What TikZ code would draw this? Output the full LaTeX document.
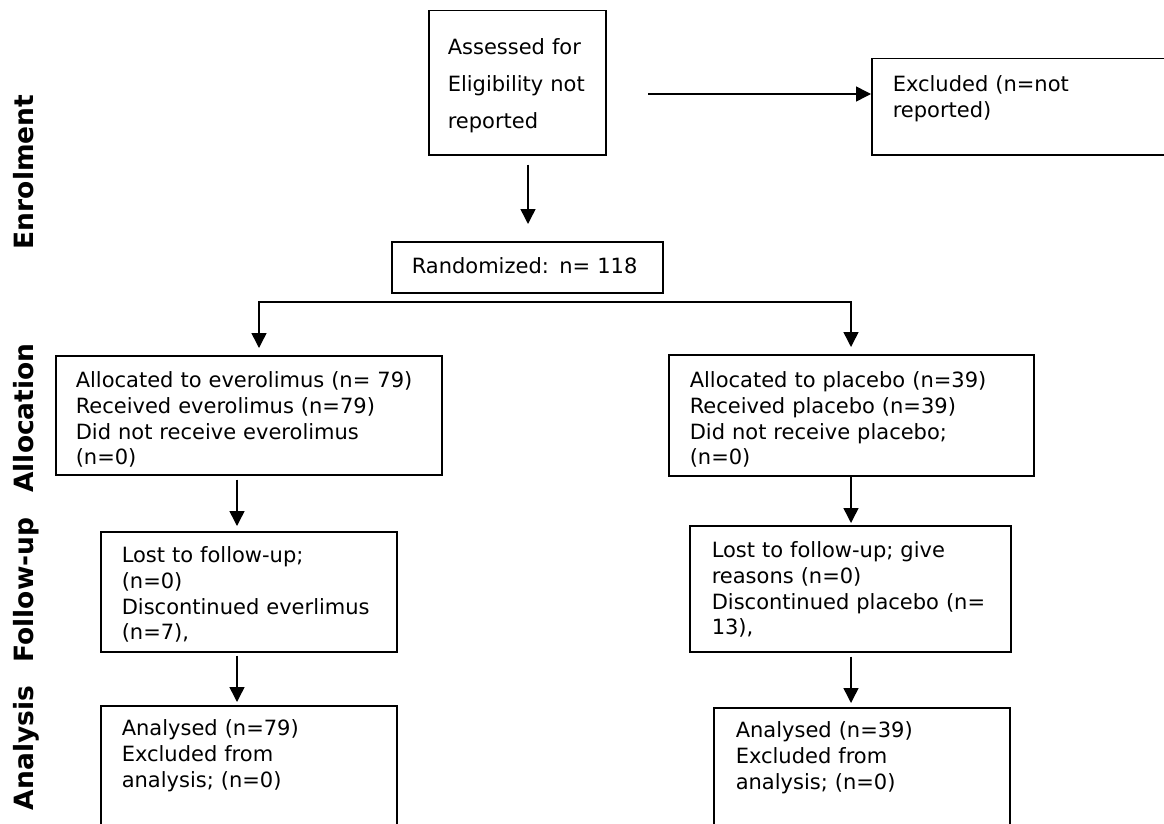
\documentclass[tikz,border=0pt]{standalone}
\usepackage{fontspec}
\setmainfont{DejaVu Sans}
\usetikzlibrary{arrows.meta}

\begin{document}
\begin{tikzpicture}[
x=1pt, y=-1pt,
line width=1.5pt,
>={Triangle[length=15pt,width=15pt]},
   box/.style = {draw, anchor=north west, align=left, inner ysep=0pt,
                 font=\fontsize{21}{25.7}\selectfont},
 stage/.style = {rotate=90, anchor=base, font=\fontsize{26.5}{30}\selectfont\bfseries}
                    ]
\useasboundingbox (0,0) rectangle (1164,824);
\clip (0,0) rectangle (1164,824);
% stages on the left
\node (enrol) [stage] at (33,172) {Enrolment};
\node (alloc) [stage] at (33,418) {Allocation};
\node (follow) [stage] at (33,590) {Follow-up};
\node (analys) [stage] at (33,748) {Analysis};
% boxes
\node (assess) [box, inner xsep=19pt, text width=139pt, text height=44pt, text depth=100pt,
                font=\fontsize{21}{37}\selectfont] at (428,10)
      {Assessed for\\ Eligibility not\\ reported};
\node (excluded) [box, inner xsep=21pt, text width=290pt, text height=33pt, text depth=63pt] at (871,58)
      {Excluded (n=not\\ reported)};
\node (randomized) [box, inner xsep=20pt, text width=231pt, text height=32pt, text depth=19pt] at (391,241)
      {Randomized: n= 118};

\node (allocE) [box, inner xsep=20pt, text width=346pt, text height=32pt, text depth=87pt] at (55,355)
      {Allocated to everolimus (n= 79)\\ Received everolimus (n=79)\\ Did not receive everolimus\\ (n=0)};
\node (allocP) [box, inner xsep=21pt, text width=323pt, text height=33pt, text depth=88pt] at (668,354)
      {Allocated to placebo (n=39)\\ Received placebo (n=39)\\ Did not receive placebo;\\ (n=0)};

\node (followE) [box, inner xsep=21pt, text width=254pt, text height=31pt, text depth=89pt] at (100,531)
      {Lost to follow-up;\\ (n=0)\\ Discontinued everlimus\\ (n=7),};
\node (followP) [box, inner xsep=22pt, text width=277pt, text height=32pt, text depth=94pt] at (689,525)
      {Lost to follow-up; give\\ reasons (n=0)\\ Discontinued placebo (n=\\ 13),};

\node (anaE) [box, inner xsep=21pt, text width=254pt, text height=30pt, text depth=150pt] at (100,705)
      {Analysed (n=79)\\ Excluded from\\ analysis; (n=0)};
\node (anaP) [box, inner xsep=22pt, text width=252pt, text height=30pt, text depth=150pt] at (713,707)
      {Analysed (n=39)\\ Excluded from\\ analysis; (n=0)};

% connectors
\coordinate (exfrom) at (648,94);
\coordinate (randx) at (528,0);
\coordinate (bl) at (259,302);
\coordinate (br) at (851,302);
\coordinate (leftx) at (237,0);
\coordinate (rightx) at (851,0);

\draw[->] (exfrom) -- (exfrom -| excluded.west);
\draw[->, shorten <=9pt, shorten >=17pt] (assess.south -| randx) -- (randomized.north -| randx);
\draw[<->, shorten <=7pt, shorten >=7pt] (allocE.north -| bl) -- (bl) -- (br) -- (allocP.north -| br);

\draw   (allocE.south -| leftx)   edge[->, shorten <=4pt, shorten >=5pt] (followE.north -| leftx)
        (followE.south -| leftx)  edge[->, shorten <=3pt, shorten >=3pt] (anaE.north -| leftx)

        (allocP.south -| rightx)  edge[->, shorten >=2pt] (followP.north -| rightx)
        (followP.south -| rightx) edge[->, shorten <=4pt, shorten >=4pt] (anaP.north -| rightx);
\end{tikzpicture}
\end{document}
